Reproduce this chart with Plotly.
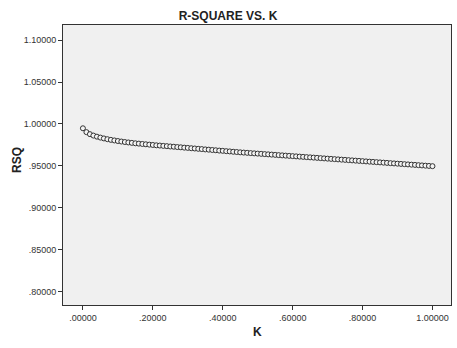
import plotly.graph_objects as go

k_values = [round(i * 0.01, 2) for i in range(101)]
rsq_values = [
    0.9948, 0.9902, 0.9878, 0.9861, 0.9848, 0.9837, 0.9827, 0.9818, 0.9810, 0.9803,
    0.9796, 0.9790, 0.9784, 0.9779, 0.9774, 0.9769, 0.9765, 0.9761, 0.9757, 0.9753,
    0.9749, 0.9745, 0.9742, 0.9738, 0.9735, 0.9731, 0.9728, 0.9724, 0.9721, 0.9717,
    0.9714, 0.9710, 0.9707, 0.9703, 0.9700, 0.9696, 0.9693, 0.9689, 0.9686, 0.9682,
    0.9679, 0.9675, 0.9672, 0.9668, 0.9665, 0.9661, 0.9658, 0.9655, 0.9652, 0.9649,
    0.9646, 0.9643, 0.9640, 0.9637, 0.9634, 0.9631, 0.9628, 0.9625, 0.9622, 0.9619,
    0.9616, 0.9613, 0.9610, 0.9607, 0.9604, 0.9601, 0.9598, 0.9595, 0.9592, 0.9589,
    0.9586, 0.9583, 0.9580, 0.9577, 0.9574, 0.9571, 0.9568, 0.9565, 0.9562, 0.9559,
    0.9556, 0.9553, 0.9550, 0.9547, 0.9544, 0.9541, 0.9538, 0.9535, 0.9532, 0.9529,
    0.9526, 0.9523, 0.9520, 0.9517, 0.9514, 0.9511, 0.9508, 0.9505, 0.9502, 0.9499,
    0.9496,
]

x_tickvals = [0.0, 0.2, 0.4, 0.6, 0.8, 1.0]
x_ticktext = [".00000", ".20000", ".40000", ".60000", ".80000", "1.00000"]
y_tickvals = [0.80, 0.85, 0.90, 0.95, 1.00, 1.05, 1.10]
y_ticktext = [".80000", ".85000", ".90000", ".95000", "1.00000", "1.05000", "1.10000"]

FONT = "Arial, 'Liberation Sans', sans-serif"

fig = go.Figure()
fig.add_trace(go.Scatter(
    x=k_values, y=rsq_values, mode="markers",
    marker=dict(symbol="circle", size=5, color="#f4f4f4",
                line=dict(color="#333333", width=1)),
    showlegend=False,
))

fig.update_layout(
    width=457, height=348,
    margin=dict(l=63, r=6, t=25, b=43),
    paper_bgcolor="white",
    plot_bgcolor="#f0f0f0",
    font=dict(family=FONT, color="#333333", size=9),
    title=dict(text="<b>R-SQUARE VS. K</b>", x=228 / 457, xanchor="center",
               y=1 - 16 / 348, yanchor="middle",
               font=dict(family=FONT, size=12, color="#222222")),
    xaxis=dict(
        range=[-0.057, 1.053],
        tickvals=x_tickvals, ticktext=x_ticktext,
        ticks="outside", ticklen=4, tickcolor="#333333",
        showline=True, linecolor="#333333", linewidth=1, mirror=True,
        showgrid=False, zeroline=False, automargin=False,
        tickfont=dict(size=9, color="#333333"),
    ),
    yaxis=dict(
        range=[0.784, 1.118],
        tickvals=y_tickvals, ticktext=y_ticktext,
        ticks="outside", ticklen=4, tickcolor="#333333",
        showline=True, linecolor="#333333", linewidth=1, mirror=True,
        showgrid=False, zeroline=False, automargin=False,
        tickfont=dict(size=9, color="#333333"),
    ),
    annotations=[
        dict(text="<b>K</b>", xref="paper", yref="paper",
             x=0.5, y=(305 - 332) / 280, xanchor="center", yanchor="middle",
             showarrow=False, font=dict(family=FONT, size=12, color="#222222")),
        dict(text="<b>RSQ</b>", xref="paper", yref="paper",
             x=(17 - 63) / 388, y=(305 - 160) / 280, xanchor="center", yanchor="middle",
             textangle=-90, showarrow=False,
             font=dict(family=FONT, size=12, color="#222222")),
    ],
)

fig.write_html("out.html")
